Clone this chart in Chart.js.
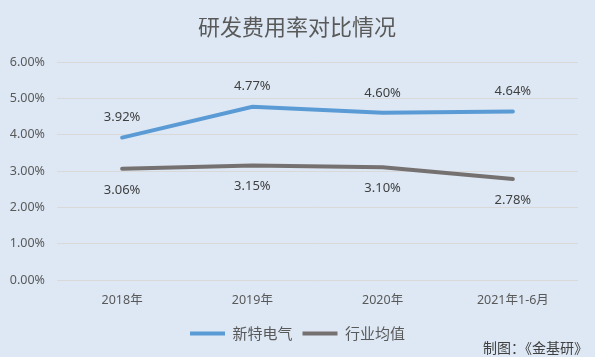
<!DOCTYPE html>
<html>
<head>
<meta charset="utf-8">
<script src="https://cdn.jsdelivr.net/npm/chart.js@4/dist/chart.umd.min.js"></script>
<style>
  html, body { margin: 0; padding: 0; background: #dde8f4; }
  #wrap { position: relative; width: 595px; height: 357px; }
</style>
</head>
<body>
<div id="wrap"><canvas id="c" width="595" height="357"></canvas></div>
<script>
const categories = ['2018年', '2019年', '2020年', '2021年1-6月'];
const xintedianqi = [3.92, 4.77, 4.60, 4.64];
const hangyejunzhi = [3.06, 3.15, 3.10, 2.78];
const yTicks = [0, 1, 2, 3, 4, 5, 6];
const titleText = '研发费用率对比情况';
const creditText = '制图：《金基研》';

const CJK = '"Noto Sans CJK SC", "Noto Sans", sans-serif';
const NUM = '"Noto Sans", "Noto Sans CJK SC", sans-serif';

const extras = {
  id: 'extras',
  beforeDraw(chart) {
    const ctx = chart.ctx;
    ctx.save();
    ctx.fillStyle = '#dde8f4';
    ctx.fillRect(0, 0, chart.width, chart.height);
    ctx.restore();
  },
  afterDatasetsDraw(chart) {
    const ctx = chart.ctx;
    ctx.save();
    ctx.font = '13px ' + NUM;
    ctx.fillStyle = '#404040';
    ctx.textAlign = 'center';
    ctx.textBaseline = 'middle';
    chart.data.datasets.forEach((ds, i) => {
      const meta = chart.getDatasetMeta(i);
      meta.data.forEach((pt, j) => {
        const off = i === 0 ? -20 : 21;
        ctx.fillText(ds.data[j].toFixed(2) + '%', pt.x, pt.y + off);
      });
    });
    // title
    ctx.font = '22px ' + CJK;
    ctx.fillStyle = '#595959';
    ctx.fillText(titleText, 297, 27);
    // credit
    ctx.font = '14px ' + CJK;
    ctx.fillStyle = '#404040';
    ctx.textAlign = 'right';
    ctx.fillText(creditText, 588, 348);
    ctx.restore();
  }
};

new Chart(document.getElementById('c'), {
  type: 'line',
  data: {
    labels: categories,
    datasets: [
      { label: '新特电气', data: xintedianqi, borderColor: '#5b9bd5', backgroundColor: '#5b9bd5',
        borderWidth: 4, pointRadius: 0, tension: 0, fill: false, borderCapStyle: 'round' },
      { label: '行业均值', data: hangyejunzhi, borderColor: '#767171', backgroundColor: '#767171',
        borderWidth: 4, pointRadius: 0, tension: 0, fill: false, borderCapStyle: 'round' }
    ]
  },
  options: {
    responsive: false,
    animation: false,
    devicePixelRatio: 1,
    layout: { padding: { top: 62, right: 0, left: 0, bottom: 6 } },
    plugins: {
      title: { display: false },
      tooltip: { enabled: false },
      legend: {
        position: 'bottom',
        labels: {
          usePointStyle: true,
          pointStyle: 'line',
          pointStyleWidth: 35,
          boxHeight: 4,
          padding: 10,
          color: '#595959',
          font: { size: 15, family: CJK }
        }
      }
    },
    scales: {
      x: {
        offset: true,
        grid: { display: false, drawTicks: false },
        border: { display: false },
        ticks: { color: '#595959', font: { size: 12.5, family: NUM }, padding: 13, maxRotation: 0 },
        afterFit(s) { s.height = 36; }
      },
      y: {
        min: 0, max: 6,
        afterBuildTicks(s) { s.ticks = yTicks.map(v => ({ value: v })); },
        grid: { color: '#d9d9d9', lineWidth: 1, drawTicks: false },
        border: { display: false },
        ticks: { color: '#595959', font: { size: 12.5, family: NUM }, padding: 12,
                 callback: v => v.toFixed(2) + '%' },
        afterFit(s) { s.width = 57; }
      },
      yRight: {
        type: 'linear',
        position: 'right',
        min: 0, max: 6,
        grid: { display: false, drawTicks: false },
        border: { display: false },
        ticks: { display: false },
        afterFit(s) { s.width = 17; }
      }
    }
  },
  plugins: [extras]
});
</script>
</body>
</html>
